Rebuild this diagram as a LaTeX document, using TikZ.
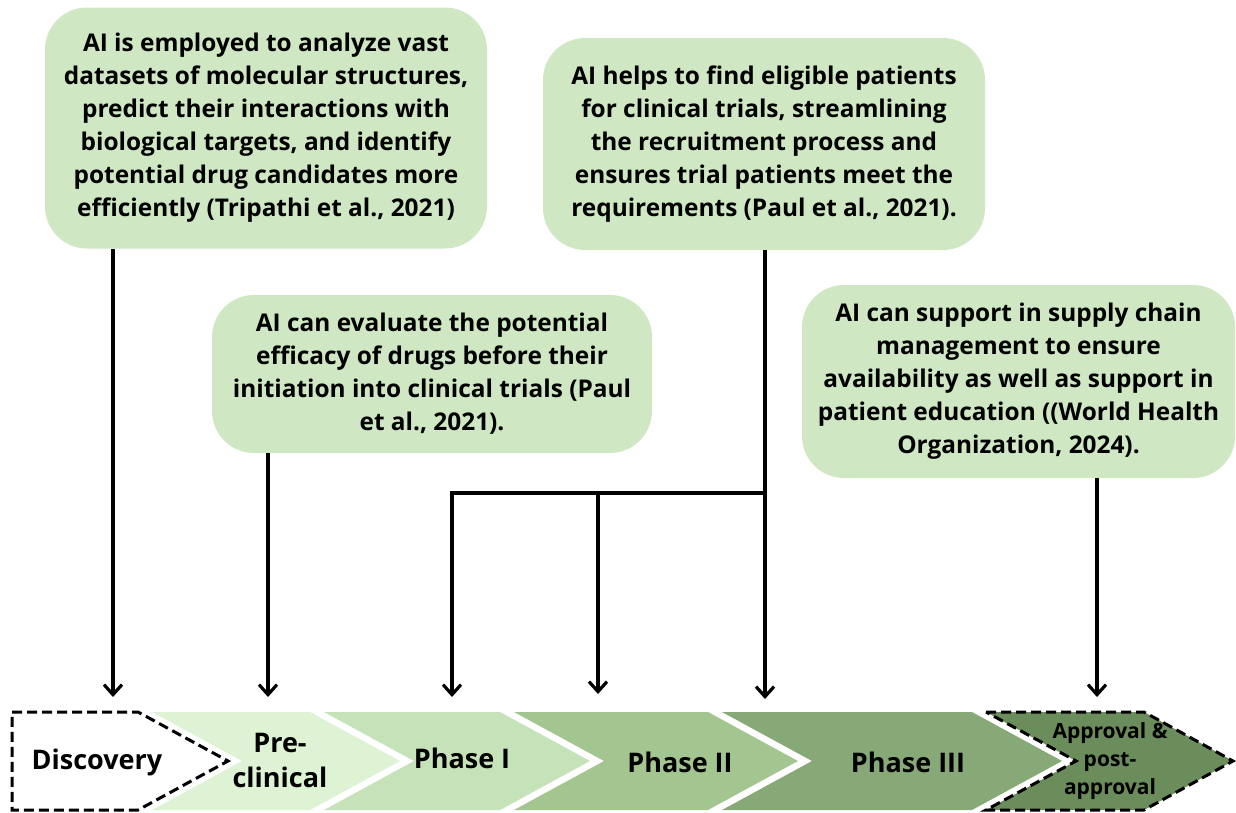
\documentclass[tikz,border=0pt]{standalone}
\usepackage{fontspec}
\setmainfont{Open Sans}
\usepackage{tikz}
\definecolor{notegreen}{HTML}{CFE8C3}
\definecolor{preclingreen}{HTML}{DDF3D3}
\definecolor{phaseonegreen}{HTML}{C5E2B8}
\definecolor{phasetwogreen}{HTML}{A3C690}
\definecolor{phasethreegreen}{HTML}{87A877}
\definecolor{approvalgreen}{HTML}{6B8C5B}
\usetikzlibrary{positioning, arrows.meta, shapes}
\tikzstyle{arrow} = [line width=3.2pt,-{Straight Barb[length=10pt,width=18pt]}]

\begin{document}
\begin{tikzpicture}[x=1pt,y=-1pt]
                    \tikzstyle{every node}=[font=\bfseries]
                    \tikzstyle{note} = [rounded corners=42pt, fill=notegreen, align=center, inner sep=0pt, font=\fontsize{24.4}{33}\selectfont\bfseries]
                    \tikzstyle{stage} = [line width=3pt, dash pattern=on 10pt off 5pt]
                    \tikzstyle{stagelabel} = [align=center, inner sep=0pt, font=\fontsize{27}{35}\selectfont\bfseries]
                    \useasboundingbox (0,0) rectangle (1236,812);

                    % notes
                    \node[note, minimum width=442pt, minimum height=241pt](discnote) at (266,128) {AI is employed to analyze vast\\datasets of molecular structures,\\predict their interactions with\\biological targets, and identify\\potential drug candidates more\\efficiently (Tripathi et al., 2021)};
                    \node[note, minimum width=442pt, minimum height=212pt](trialnote) at (764,144) {AI helps to find eligible patients\\for clinical trials, streamlining\\the recruitment process and\\ensures trial patients meet the\\requirements (Paul et al., 2021).};
                    \node[note, minimum width=440pt, minimum height=158pt](prenote) at (432,374) {AI can evaluate the potential\\efficacy of drugs before their\\initiation into clinical trials (Paul\\et al., 2021).};
                    \node[note, minimum width=433pt, minimum height=193pt](supplynote) at (1018.5,381.5) {AI can support in supply chain\\management to ensure\\availability as well as support in\\patient education ((World Health\\Organization, 2024).};

                    % stages
                    \filldraw[stage, fill=white] (12,712) -- (138,712) -- (228,761) -- (138,810) -- (12,810) -- cycle;
                    \fill[preclingreen] (152,712) -- (310,712) -- (400,761) -- (310,810) -- (152,810) -- (242,761) -- cycle;
                    \fill[phaseonegreen] (324,712) -- (500,712) -- (590,761) -- (500,810) -- (324,810) -- (414,761) -- cycle;
                    \fill[phasetwogreen] (514,712) -- (708,712) -- (798,761) -- (708,810) -- (514,810) -- (604,761) -- cycle;
                    \fill[phasethreegreen] (722,712) -- (972,712) -- (1062,761) -- (972,810) -- (722,810) -- (812,761) -- cycle;
                    \filldraw[stage, fill=approvalgreen] (986,712) -- (1144,712) -- (1233,761) -- (1144,810) -- (986,810) -- (1076,761) -- cycle;

                    \node[stagelabel](disc) at (97,762) {Discovery};
                    \node[stagelabel](preclin) at (280,760) {Pre-\\clinical};
                    \node[stagelabel](phaseone) at (462,758) {Phase I};
                    \node[stagelabel](phasetwo) at (680,762) {Phase II};
                    \node[stagelabel](phasethree) at (908,762) {Phase III};
                    \node[stagelabel, font=\fontsize{21}{28}\selectfont\bfseries](approval) at (1110,761) {Approval \&\\post-\\approval};

                    % arrows
                    \coordinate (discend) at (113,697);
                    \coordinate (preend) at (268,697);
                    \coordinate (phaseoneend) at (452,697);
                    \coordinate (phasetwoend) at (598,694);
                    \coordinate (phasethreeend) at (765,699);
                    \coordinate (approvalend) at (1097,697);
                    \coordinate (branch) at (765,493);

                    \draw[arrow] (discnote.south -| discend) -- (discend);
                    \draw[arrow] (prenote.south -| preend) -- (preend);
                    \draw[arrow] (trialnote.south -| phasethreeend) -- (phasethreeend);
                    \draw[arrow] (branch) -| (phaseoneend);
                    \draw[arrow] (branch -| phasetwoend) -- (phasetwoend);
                    \draw[arrow] (supplynote.south -| approvalend) -- (approvalend);
\end{tikzpicture}
\end{document}
